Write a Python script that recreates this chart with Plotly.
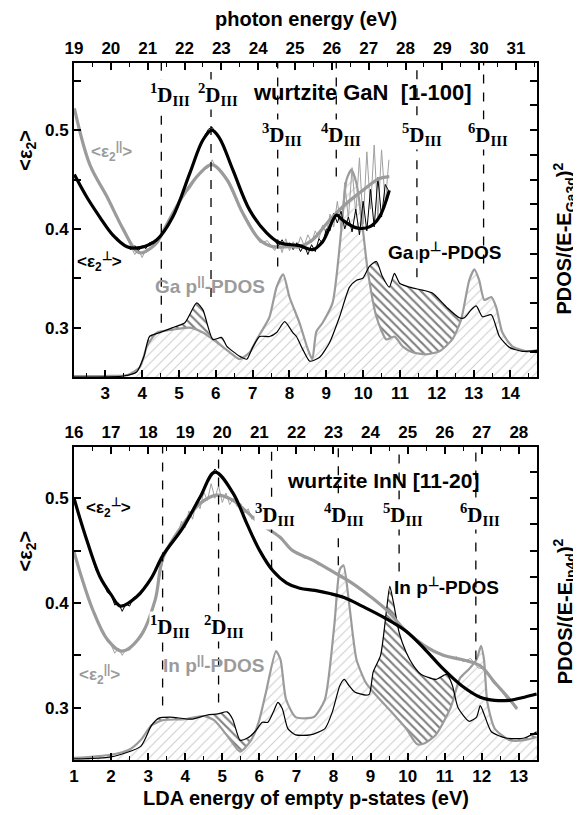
import plotly.graph_objects as go

# ================= TOP PANEL: wurtzite GaN [1-100] =================
gan_eps_perp_x = [2.16, 2.5, 2.85, 3.2, 3.59, 3.94, 4.4, 4.83, 5.29, 5.65, 5.89, 6.1, 6.46, 6.92, 7.38, 7.73, 8.27, 8.63, 8.9, 9.28, 9.44, 9.82, 10.17, 10.44, 10.71]
gan_eps_perp_y = [0.455, 0.432, 0.412, 0.394, 0.382, 0.381, 0.389, 0.412, 0.456, 0.49, 0.50, 0.492, 0.46, 0.419, 0.396, 0.386, 0.383, 0.379, 0.387, 0.414, 0.409, 0.401, 0.402, 0.412, 0.439]

gan_eps_par_x = [2.16, 2.58, 3.04, 3.48, 3.86, 4.02, 4.4, 4.56, 5.1, 5.56, 5.89, 6.3, 6.73, 7.19, 7.54, 8.0, 8.27, 8.63, 9.09, 9.55, 9.99, 10.44, 10.71]
gan_eps_par_y = [0.522, 0.465, 0.433, 0.40, 0.377, 0.376, 0.386, 0.397, 0.433, 0.456, 0.465, 0.45, 0.416, 0.389, 0.382, 0.382, 0.382, 0.389, 0.409, 0.426, 0.439, 0.451, 0.453]

gan_exp_perp_x = [3.3, 3.5, 3.7, 3.8, 3.9, 4.0, 4.1, 4.2, 4.4, 4.6, 4.9, 5.3, 5.6, 5.8, 5.9, 6.0, 6.2, 6.5, 6.9, 7.3, 7.6,
                  7.7, 7.8, 7.9, 8.0, 8.1, 8.2, 8.3, 8.4, 8.5, 8.6, 8.7, 8.8, 8.9, 9.0, 9.1, 9.2, 9.3, 9.4, 9.5, 9.6,
                  9.7, 9.8, 9.9, 10.0, 10.1, 10.2, 10.3, 10.4, 10.5, 10.6, 10.7]
gan_exp_perp_y = [0.392, 0.383, 0.379, 0.383, 0.378, 0.383, 0.380, 0.386, 0.388, 0.399, 0.416, 0.458, 0.488, 0.501, 0.503, 0.497, 0.485, 0.455, 0.421, 0.398, 0.388,
                  0.383, 0.389, 0.382, 0.386, 0.379, 0.386, 0.377, 0.384, 0.374, 0.384, 0.377, 0.390, 0.385, 0.400, 0.398, 0.416, 0.406, 0.418, 0.400, 0.412,
                  0.397, 0.420, 0.394, 0.428, 0.398, 0.440, 0.402, 0.452, 0.412, 0.445, 0.438]

gan_exp_par_x = [3.5, 3.7, 3.8, 3.9, 4.0, 4.1, 4.2, 4.4, 4.7, 5.0, 5.3, 5.6, 5.8, 5.9, 6.0, 6.2, 6.5, 6.9, 7.2, 7.4, 7.6,
                 7.7, 7.8, 7.9, 8.0, 8.1, 8.2, 8.3, 8.4, 8.5, 8.6, 8.7, 8.8, 8.9, 9.0, 9.1, 9.2, 9.3, 9.4, 9.5, 9.6,
                 9.7, 9.8, 9.9, 10.0, 10.1, 10.2, 10.3, 10.4, 10.5, 10.6, 10.7]
gan_exp_par_y = [0.398, 0.383, 0.374, 0.379, 0.371, 0.379, 0.380, 0.388, 0.404, 0.428, 0.441, 0.459, 0.462, 0.470, 0.462, 0.457, 0.433, 0.407, 0.386, 0.388, 0.378,
                 0.388, 0.376, 0.390, 0.378, 0.387, 0.380, 0.392, 0.383, 0.394, 0.386, 0.398, 0.390, 0.404, 0.395, 0.415, 0.402, 0.428, 0.400, 0.447, 0.410,
                 0.462, 0.415, 0.472, 0.405, 0.478, 0.420, 0.485, 0.410, 0.480, 0.425, 0.470]

gan_pdos_par_x = [2.15, 3.0, 3.6, 3.94, 4.13, 4.4, 4.83, 5.29, 5.65, 6.03, 6.38, 6.65, 6.92, 7.11, 7.27, 7.46, 7.65, 7.83, 8.0, 8.27,
                  8.5, 8.62, 8.73, 8.9, 9.17, 9.41, 9.55, 9.68, 9.82, 9.99, 10.12, 10.36, 10.63, 10.85, 11.07, 11.34, 11.71, 12.07,
                  12.42, 12.66, 12.88, 13.02, 13.15, 13.29, 13.48, 13.61, 13.78, 14.05, 14.43, 14.72]
gan_pdos_par_y = [0.251, 0.251, 0.252, 0.26, 0.281, 0.295, 0.298, 0.30, 0.295, 0.285, 0.275, 0.268, 0.275, 0.288, 0.298, 0.311, 0.341, 0.354, 0.331, 0.305,
                  0.278, 0.268, 0.296, 0.305, 0.325, 0.40, 0.45, 0.46, 0.446, 0.40, 0.359, 0.311, 0.288, 0.291, 0.281, 0.275, 0.273, 0.276,
                  0.288, 0.308, 0.348, 0.359, 0.348, 0.328, 0.331, 0.321, 0.295, 0.281, 0.276, 0.277]

gan_pdos_perp_x = [2.15, 3.5, 3.85, 4.05, 4.2, 4.48, 4.83, 5.16, 5.48, 5.65, 5.92, 6.16, 6.3, 6.65, 6.84, 7.0, 7.19, 7.46, 7.65, 7.87,
                   8.09, 8.19, 8.36, 8.55, 8.82, 9.09, 9.36, 9.63, 9.82, 9.99, 10.17, 10.36, 10.52, 10.71, 10.85, 10.99, 11.26,
                   11.61, 11.88, 12.26, 12.61, 12.75, 12.93, 13.07, 13.24, 13.48, 13.7, 13.97, 14.32, 14.72]
gan_pdos_perp_y = [0.25, 0.251, 0.255, 0.271, 0.291, 0.295, 0.30, 0.305, 0.325, 0.318, 0.288, 0.29, 0.281, 0.271, 0.268, 0.28, 0.291, 0.291, 0.295, 0.306,
                   0.295, 0.291, 0.278, 0.266, 0.27, 0.285, 0.311, 0.341, 0.348, 0.35, 0.362, 0.367, 0.352, 0.341, 0.355, 0.345, 0.341,
                   0.338, 0.335, 0.321, 0.31, 0.31, 0.318, 0.322, 0.311, 0.313, 0.291, 0.28, 0.276, 0.277]

gan_D_x = [4.52, 5.87, 7.68, 9.27, 11.46, 13.27]
gan_D_end = [0.305, 0.331, 0.362, 0.453, 0.351, 0.365]
gan_D_label_x = [4.75, 6.05, 7.8, 9.4, 11.6, 13.4]
gan_D_label_y = [0.536, 0.536, 0.496, 0.496, 0.496, 0.496]

gan_x_ticks = list(range(3, 15))
gan_top_ticks = list(range(19, 32))

# ================= BOTTOM PANEL: wurtzite InN [11-20] =================
inn_eps_perp_x = [1.0, 1.3, 1.7, 2.0, 2.25, 2.69, 3.09, 3.39, 3.94, 4.4, 4.8, 5.29, 5.66, 6.01, 6.36, 6.74, 7.09, 7.5, 7.9, 8.3, 8.77, 9.37, 9.96, 10.46, 10.96, 11.46, 11.96, 12.35, 12.75, 13.15, 13.48]
inn_eps_perp_y = [0.50, 0.465, 0.425, 0.408, 0.397, 0.406, 0.424, 0.445, 0.472, 0.501, 0.525, 0.505, 0.476, 0.45, 0.431, 0.419, 0.414, 0.412, 0.409, 0.405, 0.397, 0.386, 0.373, 0.356, 0.337, 0.321, 0.31, 0.307, 0.307, 0.31, 0.313]

inn_eps_par_x = [1.0, 1.2, 1.5, 1.9, 2.29, 2.79, 3.19, 3.4, 3.94, 4.4, 4.85, 5.29, 5.66, 6.01, 6.55, 6.9, 7.44, 7.98, 8.5, 9.0, 9.47, 9.96, 10.46, 10.96, 11.46, 11.96, 12.35, 12.75, 12.95]
inn_eps_par_y = [0.449, 0.425, 0.394, 0.365, 0.354, 0.368, 0.403, 0.443, 0.475, 0.495, 0.503, 0.498, 0.487, 0.476, 0.463, 0.45, 0.441, 0.43, 0.419, 0.406, 0.392, 0.373, 0.359, 0.35, 0.346, 0.34, 0.324, 0.308, 0.299]

inn_exp_perp_x = [1.0, 1.3, 1.6, 1.8, 1.9, 2.0, 2.1, 2.2, 2.3, 2.4, 2.5, 2.6, 2.8, 3.0, 3.2, 3.4, 3.7, 4.0, 4.3, 4.5, 4.7, 4.8, 4.9, 5.1, 5.4]
inn_exp_perp_y = [0.50, 0.466, 0.431, 0.419, 0.410, 0.408, 0.398, 0.400, 0.392, 0.399, 0.397, 0.405, 0.408, 0.419, 0.431, 0.444, 0.462, 0.476, 0.496, 0.509, 0.522, 0.528, 0.524, 0.515, 0.497]

inn_exp_par_x = [1.0, 1.4, 1.7, 1.9, 2.0, 2.1, 2.2, 2.3, 2.4, 2.5, 2.7, 3.0, 3.2, 3.4,
                 3.5, 3.6, 3.7, 3.8, 3.9, 4.0, 4.1, 4.2, 4.3, 4.4, 4.5, 4.6, 4.7, 4.8, 4.9, 5.0, 5.1, 5.2, 5.3,
                 5.4, 5.5, 5.6, 5.7, 5.8, 5.9, 6.0, 6.3, 6.6, 6.8, 7.0, 7.2, 7.4, 7.6, None,
                 11.3, 11.5, 11.7, 11.9, 12.1, 12.3, 12.5, 12.7, 12.9, 12.95]
inn_exp_par_y = [0.449, 0.402, 0.379, 0.363, 0.360, 0.352, 0.357, 0.350, 0.356, 0.355, 0.365, 0.382, 0.405, 0.442,
                 0.452, 0.455, 0.462, 0.466, 0.478, 0.472, 0.488, 0.480, 0.497, 0.490, 0.506, 0.498, 0.514, 0.500, 0.512, 0.496, 0.505, 0.494, 0.500,
                 0.492, 0.495, 0.486, 0.490, 0.480, 0.484, 0.475, 0.468, 0.463, 0.452, 0.449, 0.443, 0.442, 0.436, None,
                 0.349, 0.344, 0.347, 0.338, 0.337, 0.324, 0.318, 0.307, 0.302, 0.298]

inn_pdos_par_x = [1.0, 2.0, 2.5, 2.8, 3.09, 3.39, 3.99, 4.49, 4.78, 5.18, 5.48, 5.78, 5.98, 6.18, 6.45, 6.57, 6.72, 6.98, 7.47, 7.77,
                  8.02, 8.17, 8.27, 8.42, 8.62, 8.87, 9.07, 9.56, 9.96, 10.26, 10.46, 10.76, 11.16, 11.41, 11.66, 11.86, 11.98, 12.06,
                  12.15, 12.35, 12.75, 13.15, 13.48]
inn_pdos_par_y = [0.252, 0.255, 0.26, 0.269, 0.283, 0.288, 0.289, 0.292, 0.288, 0.271, 0.258, 0.269, 0.286, 0.315, 0.354, 0.346, 0.308, 0.291, 0.291, 0.308,
                  0.378, 0.432, 0.436, 0.40, 0.346, 0.324, 0.315, 0.296, 0.28, 0.265, 0.266, 0.274, 0.30, 0.328, 0.337, 0.346, 0.359, 0.346,
                  0.305, 0.28, 0.269, 0.269, 0.272]

inn_pdos_perp_x = [1.0, 2.0, 2.8, 3.09, 3.29, 3.59, 4.19, 4.59, 4.88, 5.13, 5.28, 5.48, 5.68, 5.88, 6.08, 6.23, 6.38, 6.5, 6.62, 6.77,
                   6.98, 7.37, 7.77, 7.97, 8.17, 8.29, 8.42, 8.57, 8.87, 8.97, 9.07, 9.27, 9.42, 9.52, 9.62, 9.77, 9.96, 10.16,
                   10.36, 10.76, 11.06, 11.21, 11.36, 11.66, 11.86, 11.96, 12.06, 12.26, 12.65, 13.15, 13.48]
inn_pdos_perp_y = [0.251, 0.253, 0.263, 0.283, 0.29, 0.291, 0.289, 0.293, 0.294, 0.296, 0.289, 0.269, 0.271, 0.277, 0.286, 0.286, 0.296, 0.305, 0.299, 0.28,
                   0.274, 0.274, 0.28, 0.296, 0.321, 0.327, 0.321, 0.315, 0.312, 0.313, 0.334, 0.35, 0.39, 0.416, 0.40, 0.372, 0.353, 0.34,
                   0.332, 0.327, 0.332, 0.321, 0.30, 0.287, 0.291, 0.302, 0.294, 0.277, 0.271, 0.271, 0.277]

inn_D_x = [3.39, 4.9, 6.33, 8.13, 9.77, 11.84]
inn_D_end = [0.302, 0.305, 0.364, 0.436, 0.43, 0.346]
inn_D_label_x = [3.6, 5.05, 6.42, 8.27, 9.88, 11.95]
inn_D_label_y = [0.378, 0.378, 0.485, 0.485, 0.485, 0.485]

inn_x_ticks = list(range(1, 14))
inn_top_ticks = list(range(16, 29))

# ---------------- ranges ----------------
gan_xrange = [2.15, 14.72]
gan_offset = 16.85
gan_yrange = [0.25, 0.568]
inn_xrange = [1.0, 13.49]
inn_offset = 15.0
inn_yrange = [0.25, 0.549]

GREY = "#9b9b9b"
SANS = "Liberation Sans, Arial, sans-serif"
SERIF = "Liberation Serif, Times New Roman, serif"

fig = go.Figure()


def add_panel(xa, ya, pdos_perp, pdos_par, exp_par, exp_perp, eps_par, eps_perp):
    # black hatched perpendicular PDOS (visible only where above the parallel PDOS)
    fig.add_trace(go.Scatter(x=pdos_perp[0], y=pdos_perp[1], xaxis=xa, yaxis=ya, mode="lines",
                             line=dict(color="rgba(0,0,0,0)", width=0, shape="spline", smoothing=0.6),
                             fill="tozeroy", fillcolor="white",
                             fillpattern=dict(shape="\\", fgcolor="black", bgcolor="white", size=6, solidity=0.36),
                             hoverinfo="skip"))
    # grey hatched parallel PDOS
    fig.add_trace(go.Scatter(x=pdos_par[0], y=pdos_par[1], xaxis=xa, yaxis=ya, mode="lines",
                             line=dict(color=GREY, width=2.2, shape="spline", smoothing=0.6),
                             fill="tozeroy", fillcolor="white",
                             fillpattern=dict(shape="/", fgcolor="#a0a0a0", bgcolor="white", size=7, solidity=0.16),
                             hoverinfo="skip"))
    # black PDOS outline
    fig.add_trace(go.Scatter(x=pdos_perp[0], y=pdos_perp[1], xaxis=xa, yaxis=ya, mode="lines",
                             line=dict(color="black", width=1.2, shape="spline", smoothing=0.6), hoverinfo="skip"))
    # experimental thin lines
    fig.add_trace(go.Scatter(x=exp_par[0], y=exp_par[1], xaxis=xa, yaxis=ya, mode="lines",
                             line=dict(color="#a0a0a0", width=1), connectgaps=False, hoverinfo="skip"))
    fig.add_trace(go.Scatter(x=exp_perp[0], y=exp_perp[1], xaxis=xa, yaxis=ya, mode="lines",
                             line=dict(color="black", width=1), hoverinfo="skip"))
    # smoothed thick lines
    fig.add_trace(go.Scatter(x=eps_par[0], y=eps_par[1], xaxis=xa, yaxis=ya, mode="lines",
                             line=dict(color=GREY, width=3.2, shape="spline", smoothing=1.0), hoverinfo="skip"))
    fig.add_trace(go.Scatter(x=eps_perp[0], y=eps_perp[1], xaxis=xa, yaxis=ya, mode="lines",
                             line=dict(color="black", width=3.2, shape="spline", smoothing=1.0), hoverinfo="skip"))


add_panel("x", "y", (gan_pdos_perp_x, gan_pdos_perp_y), (gan_pdos_par_x, gan_pdos_par_y),
          (gan_exp_par_x, gan_exp_par_y), (gan_exp_perp_x, gan_exp_perp_y),
          (gan_eps_par_x, gan_eps_par_y), (gan_eps_perp_x, gan_eps_perp_y))
add_panel("x3", "y3", (inn_pdos_perp_x, inn_pdos_perp_y), (inn_pdos_par_x, inn_pdos_par_y),
          (inn_exp_par_x, inn_exp_par_y), (inn_exp_perp_x, inn_exp_perp_y),
          (inn_eps_par_x, inn_eps_par_y), (inn_eps_perp_x, inn_eps_perp_y))

# empty helper traces so the photon-energy (top) and right-hand PDOS axes are drawn
fig.add_trace(go.Scatter(x=gan_top_ticks, y=[None] * len(gan_top_ticks), xaxis="x2", yaxis="y2",
                         mode="markers", hoverinfo="skip"))
fig.add_trace(go.Scatter(x=inn_top_ticks, y=[None] * len(inn_top_ticks), xaxis="x4", yaxis="y4",
                         mode="markers", hoverinfo="skip"))

tickfont = dict(family=SANS, size=17, color="black", weight="bold")
base = dict(ticks="inside", ticklen=7, tickwidth=1.5, tickcolor="black", showline=True, linewidth=2,
            linecolor="black", showgrid=False, zeroline=False, tickfont=tickfont)
minor_x = dict(dtick=0.5, ticklen=4, ticks="inside", tickcolor="black", tickwidth=1.2)

# plot area 463 x 697 px; the page adds an 8 px body margin, so the figure is 8 px smaller
top_dom = [(697 - 314) / 697, 1.0]
bot_dom = [0.0, 313 / 697]

fig.update_layout(
    width=573, height=806, plot_bgcolor="white", paper_bgcolor="white", showlegend=False,
    margin=dict(l=66, r=44, t=55, b=54),
    xaxis=dict(base, domain=[0, 1], anchor="y", range=gan_xrange, tickvals=gan_x_ticks, minor=minor_x),
    xaxis2=dict(base, overlaying="x", side="top", anchor="y2",
                range=[gan_xrange[0] + gan_offset, gan_xrange[1] + gan_offset], tickvals=gan_top_ticks, minor=minor_x),
    yaxis=dict(base, domain=top_dom, anchor="x", range=gan_yrange, tickvals=[0.3, 0.4, 0.5], tickformat=".1f",
               minor=dict(dtick=0.05, tick0=0, ticklen=7, ticks="inside", tickcolor="black", tickwidth=1.5)),
    yaxis2=dict(base, overlaying="y", side="right", anchor="x2", range=gan_yrange, dtick=0.025, tick0=0,
                showticklabels=False),
    xaxis3=dict(base, domain=[0, 1], anchor="y3", range=inn_xrange, tickvals=inn_x_ticks, minor=minor_x),
    xaxis4=dict(base, overlaying="x3", side="top", anchor="y4",
                range=[inn_xrange[0] + inn_offset, inn_xrange[1] + inn_offset], tickvals=inn_top_ticks, minor=minor_x),
    yaxis3=dict(base, domain=bot_dom, anchor="x3", range=inn_yrange, tickvals=[0.3, 0.4, 0.5], tickformat=".1f",
                minor=dict(dtick=0.05, tick0=0, ticklen=7, ticks="inside", tickcolor="black", tickwidth=1.5)),
    yaxis4=dict(base, overlaying="y3", side="right", anchor="x4", range=inn_yrange, dtick=0.025, tick0=0,
                showticklabels=False),
)

shapes = []
annotations = []
for (xs, ends, lx, ly, xr, yr, ytop) in [
        (gan_D_x, gan_D_end, gan_D_label_x, gan_D_label_y, "x", "y", gan_yrange[1]),
        (inn_D_x, inn_D_end, inn_D_label_x, inn_D_label_y, "x3", "y3", inn_yrange[1])]:
    for i, (xv, ev) in enumerate(zip(xs, ends)):
        shapes.append(dict(type="line", xref=xr, yref=yr, x0=xv, x1=xv, y0=ev, y1=ytop,
                           line=dict(color="black", width=1.3, dash="dash"), layer="above"))
        annotations.append(dict(x=lx[i], y=ly[i], xref=xr, yref=yr, showarrow=False, bgcolor="white", borderpad=0,
                                yanchor="middle", xanchor="center",
                                text=f"<sup>{i + 1}</sup>D<sub>III</sub>",
                                font=dict(family=SERIF, size=21, color="black", weight="bold")))


def lab(text, x, y, xr, yr, size, color="black", angle=0):
    annotations.append(dict(text=text, x=x, y=y, xref=xr, yref=yr, showarrow=False, textangle=angle,
                            xanchor="center", yanchor="middle",
                            font=dict(family=SANS, size=size, color=color, weight="bold")))


# top panel texts
lab("wurtzite GaN  [1-100]", 9.98, 0.538, "x", "y", 22)
lab("&lt;ε<sub>2</sub><sup>||</sup>&gt;", 3.18, 0.478, "x", "y", 17, GREY)
lab("&lt;ε<sub>2</sub><sup>⊥</sup>&gt;", 2.83, 0.367, "x", "y", 17)
lab("Ga p<sup>||</sup>-PDOS", 5.84, 0.343, "x", "y", 19, GREY)
lab("Ga p<sup>⊥</sup>-PDOS", 12.2, 0.378, "x", "y", 19)
# bottom panel texts
lab("wurtzite InN [11-20]", 9.33, 0.517, "x3", "y3", 21)
lab("&lt;ε<sub>2</sub><sup>⊥</sup>&gt;", 1.92, 0.491, "x3", "y3", 17)
lab("&lt;ε<sub>2</sub><sup>||</sup>&gt;", 1.7, 0.332, "x3", "y3", 17, GREY)
lab("In p<sup>||</sup>-PDOS", 4.75, 0.342, "x3", "y3", 19, GREY)
lab("In p<sup>⊥</sup>-PDOS", 11.06, 0.416, "x3", "y3", 19)

# axis titles
lab("photon energy (eV)", 0.5, 1.063, "paper", "paper", 20)
lab("LDA energy of empty p-states (eV)", 0.5, -0.055, "paper", "paper", 20)
lab("&lt;ε<sub>2</sub>&gt;", -0.102, 0.48, "paper", "y", 20, angle=-90)
lab("&lt;ε<sub>2</sub>&gt;", -0.102, 0.45, "paper", "y3", 20, angle=-90)
lab("PDOS/(E-E<sub>Ga3d</sub>)<sup>2</sup>", 1.06, 0.39, "paper", "y", 20, angle=-90)
lab("PDOS/(E-E<sub>In4d</sub>)<sup>2</sup>", 1.06, 0.392, "paper", "y3", 20, angle=-90)

fig.update_layout(shapes=shapes, annotations=annotations)
fig.write_html("out.html")
